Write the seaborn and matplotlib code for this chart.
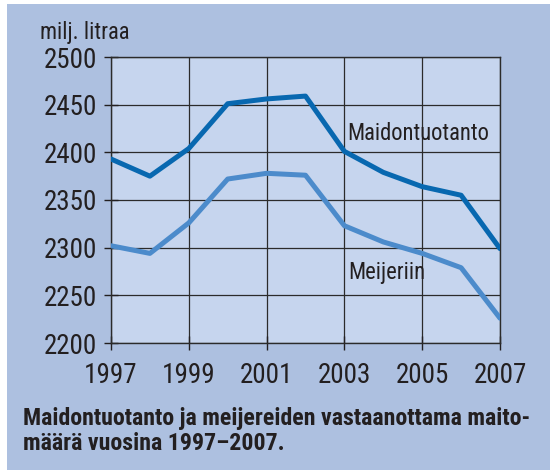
import pandas as pd
import seaborn as sns
import matplotlib.pyplot as plt
from matplotlib import font_manager as fm
from matplotlib.patches import Rectangle

# data (milj. litraa)
vuodet = list(range(1997, 2008))
maidontuotanto = [2393, 2375, 2404, 2451, 2456, 2459, 2401, 2379, 2364, 2355, 2299]
meijeriin = [2302, 2294, 2326, 2372, 2378, 2376, 2323, 2306, 2294, 2279, 2226]
sarjat = ["Maidontuotanto", "Meijeriin"]
x_ticks = [1997, 1999, 2001, 2003, 2005, 2007]
y_ticks = [2200, 2250, 2300, 2350, 2400, 2450, 2500]
otsikko = "Maidontuotanto ja meijereiden vastaanottama maito-\nmäärä vuosina 1997–2007."

df = pd.DataFrame({
    "vuosi": vuodet * 2,
    "milj": maidontuotanto + meijeriin,
    "sarja": [sarjat[0]] * len(vuodet) + [sarjat[1]] * len(vuodet),
})

sns.set_style("ticks")
# look for a narrow face, the original uses a condensed Helvetica
names = {f.name for f in fm.fontManager.ttflist}
condensed = [f.name for f in fm.fontManager.ttflist if f.stretch in ("condensed", "semi-condensed")]
choice = None
for n in ["Liberation Sans Narrow", "Roboto Condensed", "Open Sans Condensed", "Noto Sans Condensed"]:
    if n in names:
        choice = n
        break
if choice is None and condensed:
    choice = condensed[0]
if choice is None:
    choice = "Roboto"
plt.rcParams["font.family"] = [choice, "DejaVu Sans"]
plt.rcParams["font.stretch"] = "condensed"

text_col = "#231f20"
outer_bg = "#adc0e0"
plot_bg = "#c6d5ee"
grid_col = "#2b2b2b"

fig = plt.figure(figsize=(5.5, 4.7), dpi=100)
fig.patch.set_facecolor("white")
fig.add_artist(Rectangle((7 / 550, 0), 1, 1 - 4 / 470, transform=fig.transFigure,
                         facecolor=outer_bg, edgecolor="none", zorder=-10))

ax = fig.add_axes([111 / 550, 1 - 343 / 470, 389 / 550, 286 / 470])
ax.set_facecolor(plot_bg)

sns.lineplot(data=df, x="vuosi", y="milj", hue="sarja",
             palette={"Maidontuotanto": "#0868b0", "Meijeriin": "#4c8bcb"},
             linewidth=3.6, legend=False, ax=ax, zorder=3)

ax.set_xlim(1997, 2007)
ax.set_ylim(2200, 2500)
ax.set_xticks(x_ticks)
ax.set_yticks(y_ticks)
ax.grid(True, color=grid_col, linewidth=0.9)
ax.set_axisbelow(True)
for s in ax.spines.values():
    s.set_color(grid_col)
    s.set_linewidth(1.0)

ax.tick_params(axis="both", colors=text_col, labelsize=19.5, width=1.0, direction="inout", length=10)
ax.tick_params(axis="x", pad=9)
ax.tick_params(axis="y", pad=5)
ax.set_xlabel("")
ax.set_ylabel("")


def px(x, y):
    return x / 550, 1 - y / 470


fig.text(*px(347, 133), "Maidontuotanto", fontsize=16.3, color=text_col, va="center", ha="left")
fig.text(*px(348, 272), "Meijeriin", fontsize=16.3, color=text_col, va="center", ha="left")
fig.text(*px(40, 32), "milj. litraa", fontsize=16.3, color=text_col, va="center", ha="left")
fig.text(*px(23, 431), otsikko, fontsize=17.2, fontweight="bold",
         color=text_col, va="center", ha="left", linespacing=1.15)

fig.savefig("out.png", dpi=100, facecolor=fig.get_facecolor())
